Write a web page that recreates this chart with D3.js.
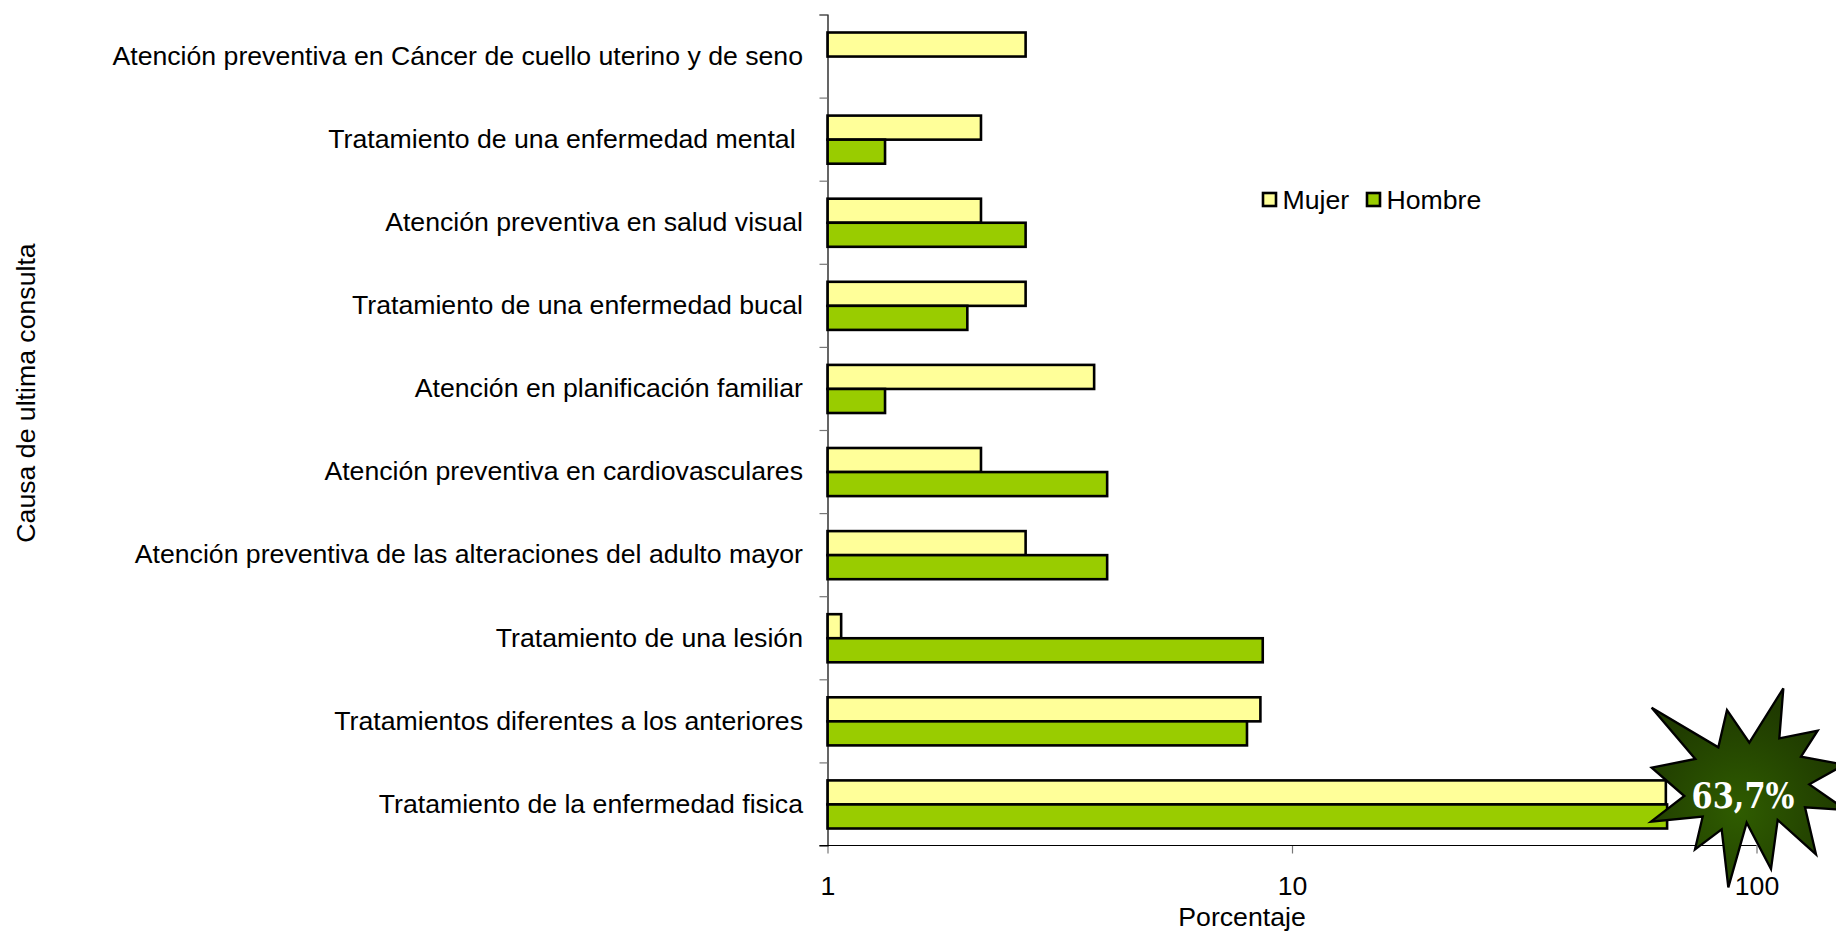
<!DOCTYPE html>
<html lang="es">
<head>
<meta charset="utf-8">
<script src="https://cdn.jsdelivr.net/npm/d3@7/dist/d3.min.js"></script>
<style>
html,body{margin:0;padding:0;background:#fff;overflow:hidden}
svg{display:block}
text{font-family:"Liberation Sans",Arial,sans-serif;fill:#000;white-space:pre}
</style>
</head>
<body>
<svg id="chart" width="1836" height="932"></svg>
<script>
const categories = [
  "Atención preventiva en Cáncer de cuello uterino y de seno",
  "Tratamiento de una enfermedad mental ",
  "Atención preventiva en salud visual",
  "Tratamiento de una enfermedad bucal",
  "Atención en planificación familiar",
  "Atención preventiva en cardiovasculares",
  "Atención preventiva de las alteraciones del adulto mayor",
  "Tratamiento de una lesión",
  "Tratamientos diferentes a los anteriores",
  "Tratamiento de la enfermedad fisica"
];
const mujer  = [2.67, 2.14, 2.14, 2.67, 3.75, 2.14, 2.67, 1.07, 8.55, 63.8];
const hombre = [null, 1.33, 2.67, 2.0, 1.33, 4.0, 4.0, 8.65, 8.0, 64.2];
const xTicks = [1, 10, 100];
const seriesNames = ["Mujer", "Hombre"];
const seriesColors = ["#FFFF99", "#99CC00"];
const calloutText = "63,7%";
// Callout burst outline, in pixels relative to its own box
const burst = [[152,113],[352,232],[378,120],[445,218],[547,55],[535,205],[650,182],[600,260],[730,284],[625,343],[735,420],[612,412],[645,553],[530,450],[510,597],[437,458],[382,652],[362,478],[282,538],[305,440],[150,455],[250,378],[152,293],[283,267]];

const svg = d3.select("#chart");
const fontSize = 26.67;
const plotLeft = 827.5, plotRight = 1756.5, plotTop = 14.5, plotBottom = 845.5;
const x = d3.scaleLog().domain([1, 100]).range([plotLeft, plotRight]);
const y = d3.scaleBand().domain(categories).range([plotTop, plotBottom]);
const inner = d3.scaleBand().domain(seriesNames).range([18, y.bandwidth() - 17]);
const tickY = d3.scaleLinear().domain([0, categories.length]).range([plotTop, plotBottom]);

const bars = svg.append("g");
[mujer, hombre].forEach((vals, s) => {
  bars.selectAll(null)
    .data(categories.map((c, i) => ({c, v: vals[i]})).filter(d => d.v != null))
    .join("rect")
    .attr("x", plotLeft)
    .attr("y", d => y(d.c) + inner(seriesNames[s]))
    .attr("width", d => x(d.v) - plotLeft)
    .attr("height", inner.bandwidth())
    .attr("fill", seriesColors[s])
    .attr("stroke", "#000")
    .attr("stroke-width", 2.6);
});

// Axes
const xAxis = svg.append("g").attr("transform", `translate(0,${plotBottom})`)
  .call(d3.axisBottom(x).tickValues(xTicks).tickFormat(d3.format("d")).tickSize(8).tickPadding(23));
xAxis.select(".domain").remove();
xAxis.selectAll("line").attr("stroke", "#777").attr("stroke-width", 1.2);
xAxis.selectAll("text").attr("font-size", fontSize).attr("fill", "#000");

const yTicks = svg.append("g").attr("transform", `translate(${plotLeft},0)`)
  .call(d3.axisLeft(tickY).tickValues(d3.range(categories.length + 1)).tickFormat(() => "").tickSize(8));
yTicks.select(".domain").attr("stroke", "#000").attr("stroke-width", 1.2);
yTicks.selectAll("line").attr("stroke", "#777").attr("stroke-width", 1.2);

const yLabels = svg.append("g").attr("transform", `translate(${plotLeft},0.3)`)
  .call(d3.axisLeft(y).tickSize(0).tickPadding(24.5));
yLabels.select(".domain").remove();
yLabels.selectAll("text").attr("font-size", fontSize).attr("fill", "#000");

svg.append("line").attr("x1", plotLeft - 8).attr("x2", plotRight).attr("y1", plotBottom).attr("y2", plotBottom)
  .attr("stroke", "#000").attr("stroke-width", 1.2);

// Axis titles
svg.append("text").attr("x", 1242).attr("y", 926.3).attr("text-anchor", "middle").attr("font-size", fontSize).text("Porcentaje");
svg.append("text").attr("transform", "translate(35,393) rotate(-90)").attr("text-anchor", "middle").attr("font-size", fontSize).text("Causa de ultima consulta");

// Legend
const legendX = [1263, 1367];
const legend = svg.append("g");
seriesNames.forEach((n, i) => {
  legend.append("rect").attr("x", legendX[i]).attr("y", 193).attr("width", 13).attr("height", 13)
    .attr("fill", seriesColors[i]).attr("stroke", "#000").attr("stroke-width", 2.6);
  legend.append("text").attr("x", legendX[i] + 19.5).attr("y", 209).attr("font-size", fontSize).text(n);
});

// Callout
const defs = svg.append("defs");
const grad = defs.append("radialGradient").attr("id", "burstFill")
  .attr("cx", "0.45").attr("cy", "0.62").attr("r", "0.55");
grad.append("stop").attr("offset", "0").attr("stop-color", "#2F5C00");
grad.append("stop").attr("offset", "1").attr("stop-color", "#1F3A00");
const callout = svg.append("g").attr("transform", "translate(1601,670) scale(0.33333)");
callout.append("polygon")
  .attr("points", burst.map(p => p.join(",")).join(" "))
  .attr("fill", "url(#burstFill)").attr("stroke", "#000").attr("stroke-width", 7).attr("stroke-linejoin", "miter");
svg.append("text").attr("x", 1691.5).attr("y", 808)
  .attr("font-size", 35).attr("font-weight", "bold")
  .attr("textLength", 103).attr("lengthAdjust", "spacingAndGlyphs")
  .style("font-family", '"DejaVu Serif",serif').style("fill", "#fff").text(calloutText);
</script>
</body>
</html>
